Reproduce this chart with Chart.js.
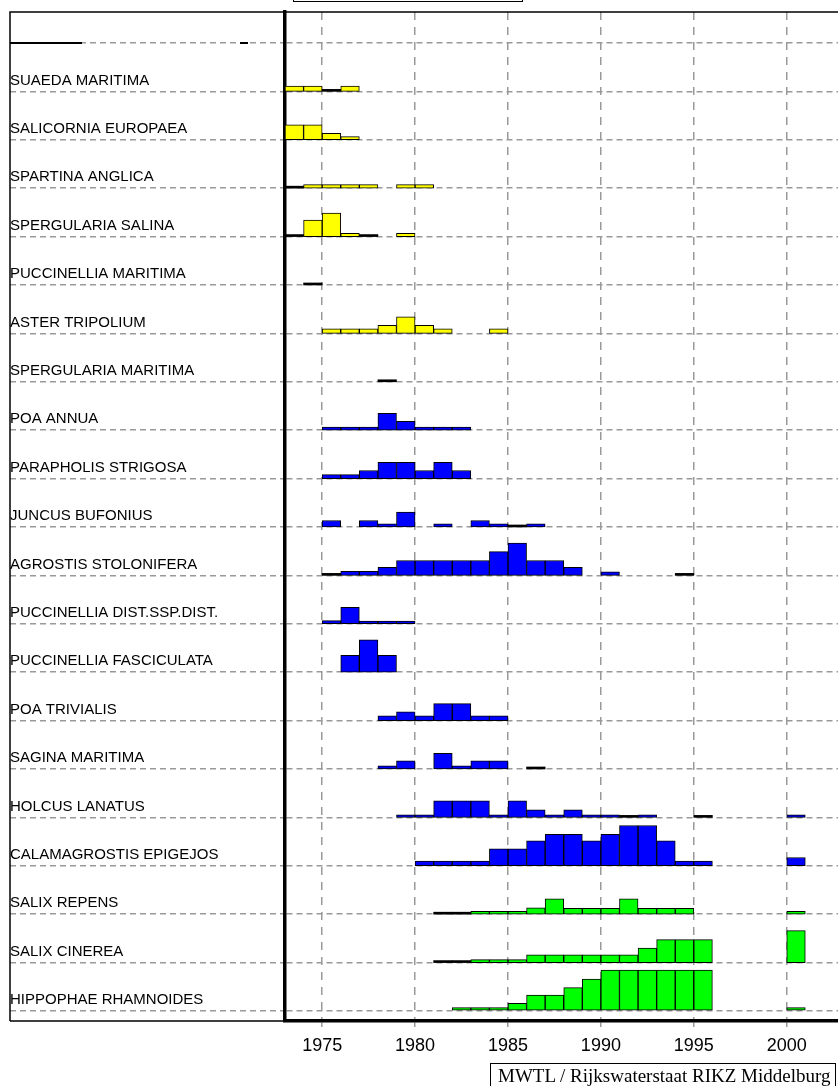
<!DOCTYPE html>
<html>
<head>
<meta charset="utf-8">
<script src="https://cdn.jsdelivr.net/npm/chart.js@4.4.1/dist/chart.umd.min.js"></script>
<style>
  html, body { margin: 0; padding: 0; background: #fff; }
  #wrap { position: relative; width: 838px; height: 1086px; overflow: hidden; }
  #myChart { position: absolute; left: 0; top: 0; }
  #title { position: absolute; left: 293px; top: -30px; width: 228px; height: 30px; border: 1.5px solid #000; }
  #source { position: absolute; left: 490px; top: 1063px; width: 346px; height: 40px; border: 1px solid #000;
            box-sizing: border-box; padding: 1px 0 0 7px; font: 19px "Liberation Serif", serif; color: #000; white-space: nowrap; }
</style>
</head>
<body>
<div id="wrap">
  <canvas id="myChart" width="838" height="1086"></canvas>
  <div id="title"></div>
  <div id="source">MWTL / Rijkswaterstaat RIKZ Middelburg</div>
</div>
<script>
// one entry per year, starting 1973; null = no record, 0 = recorded absent (black line)
const _ = null;
const firstYear = 1973;
const yearTicks = [1975, 1980, 1985, 1990, 1995, 2000];

const species = [
  '',
  'SUAEDA MARITIMA',
  'SALICORNIA EUROPAEA',
  'SPARTINA ANGLICA',
  'SPERGULARIA SALINA',
  'PUCCINELLIA MARITIMA',
  'ASTER TRIPOLIUM',
  'SPERGULARIA MARITIMA',
  'POA ANNUA',
  'PARAPHOLIS STRIGOSA',
  'JUNCUS BUFONIUS',
  'AGROSTIS STOLONIFERA',
  'PUCCINELLIA DIST.SSP.DIST.',
  'PUCCINELLIA FASCICULATA',
  'POA TRIVIALIS',
  'SAGINA MARITIMA',
  'HOLCUS LANATUS',
  'CALAMAGROSTIS EPIGEJOS',
  'SALIX REPENS',
  'SALIX CINEREA',
  'HIPPOPHAE RHAMNOIDES'
];

const yellow = '#ffff00';
const blue = '#0000ff';
const green = '#00ff00';
const colors = ['#000', yellow, yellow, yellow, yellow, yellow, yellow, yellow,
  blue, blue, blue, blue, blue, blue, blue, blue, blue, blue, green, green, green];

const topRow = [];
const suaeda = [0.65, 0.65, 0, 0.65];
const salicornia = [1.85, 1.85, 0.8, 0.4];
const spartina = [0, 0.45, 0.45, 0.45, 0.45, _, 0.45, 0.45];
const spergSalina = [0, 2.05, 2.9, 0.4, 0, _, 0.4];
const puccMaritima = [_, 0];
const aster = [_, _, 0.55, 0.55, 0.55, 1.0, 2.05, 1.0, 0.55, _, _, 0.55];
const spergMaritima = [_, _, _, _, _, 0];
const poaAnnua = [_, _, 0.37, 0.37, 0.37, 2.1, 1.1, 0.37, 0.37, 0.37];
const parapholis = [_, _, 0.5, 0.5, 1.0, 2.0, 2.0, 1.0, 2.0, 1.0];
const juncus = [_, _, 0.8, _, 0.8, 0.4, 1.85, _, 0.4, _, 0.8, 0.4, 0, 0.4];
const agrostis = [_, _, 0, 0.5, 0.5, 1.0, 1.85, 1.85, 1.85, 1.85, 1.85, 2.95, 4.0, 1.85, 1.85, 1.0, _, 0.45, _, _, _, 0];
const puccDist = [_, _, 0.4, 2.05, 0.35, 0.35, 0.35];
const puccFasc = [_, _, _, 2.1, 4.0, 2.1];
const poaTrivialis = [_, _, _, _, _, 0.6, 1.1, 0.6, 2.1, 2.1, 0.6, 0.6];
const sagina = [_, _, _, _, _, 0.4, 1.0, _, 1.95, 0.4, 1.0, 1.0, _, 0];
const holcus = [_, _, _, _, _, _, 0.33, 0.33, 2.05, 2.05, 2.05, 0.33, 2.05, 0.95, 0.33, 0.95, 0.33, 0.33, 0, 0.33, _, _, 0, _, _, _, _, 0.33];
const calamagrostis = [_, _, _, _, _, _, _, 0.58, 0.58, 0.58, 0.58, 2.1, 2.1, 3.1, 3.9, 3.9, 3.1, 3.9, 5.0, 5.0, 3.1, 0.58, 0.58, _, _, _, _, 1.03];
const salixRepens = [_, _, _, _, _, _, _, _, 0, 0, 0.37, 0.37, 0.37, 0.78, 1.9, 0.74, 0.74, 0.74, 1.9, 0.74, 0.74, 0.74, _, _, _, _, _, 0.37];
const salixCinerea = [_, _, _, _, _, _, _, _, 0, 0, 0.37, 0.37, 0.37, 0.95, 0.95, 0.95, 0.95, 0.95, 0.95, 1.8, 2.85, 2.85, 2.85, _, _, _, _, 3.96];
const hippophae = [_, _, _, _, _, _, _, _, _, 0.41, 0.41, 0.41, 0.95, 1.98, 1.98, 2.89, 3.96, 5.07, 5.07, 5.07, 5.07, 5.07, 5.07, _, _, _, _, 0.41];

const rowValues = [topRow, suaeda, salicornia, spartina, spergSalina, puccMaritima, aster, spergMaritima,
  poaAnnua, parapholis, juncus, agrostis, puccDist, puccFasc, poaTrivialis, sagina, holcus,
  calamagrostis, salixRepens, salixCinerea, hippophae];

const rowStep = 6;
const lastRow = species.length - 1;
function rowBase(i) {
  return (lastRow - i) * rowStep;
}

const datasets = rowValues.map(function(values, i) {
  const base = rowBase(i);
  const points = [];
  values.forEach(function(v, j) {
    if (v === null) return;
    points.push({ x: firstYear + j + 0.5, y: [base, v === 0 ? base + 0.25 : base + v], v: v });
  });
  return {
    label: species[i],
    data: points,
    backgroundColor: function(ctx) { return ctx.raw && ctx.raw.v === 0 ? '#000' : colors[i]; },
    borderWidth: function(ctx) { return ctx.raw && ctx.raw.v === 0 ? 0 : 1; },
    borderColor: '#000',
    borderSkipped: false,
    grouped: false,
    categoryPercentage: 1,
    barPercentage: 1
  };
});

const framePlugin = {
  id: 'frame',
  afterDraw: function(chart) {
    const ctx = chart.ctx;
    const area = chart.chartArea;
    const left = chart.scales.y.left;
    const row0 = chart.scales.y.getPixelForValue(rowBase(0));
    ctx.save();
    ctx.strokeStyle = '#000';
    ctx.lineWidth = 1.5;
    ctx.beginPath();
    ctx.moveTo(left, area.bottom);
    ctx.lineTo(left, area.top);
    ctx.lineTo(chart.width, area.top);
    ctx.moveTo(left, area.bottom);
    ctx.lineTo(area.left, area.bottom);
    ctx.stroke();
    ctx.lineWidth = 2;
    ctx.beginPath();
    ctx.moveTo(left, row0);
    ctx.lineTo(left + 72, row0);
    ctx.moveTo(left + 230, row0);
    ctx.lineTo(left + 238, row0);
    ctx.stroke();
    ctx.restore();
  }
};

const ctx = document.getElementById('myChart').getContext('2d');
const chart = new Chart(ctx, { // eslint-disable-line
  type: 'bar',
  data: { datasets: datasets },
  plugins: [framePlugin],
  options: {
    responsive: false,
    animation: false,
    devicePixelRatio: 1,
    layout: { padding: { left: 10, top: 10, right: 0, bottom: 0 } },
    plugins: { legend: { display: false }, tooltip: { enabled: false } },
    scales: {
      x: {
        type: 'linear',
        offset: false,
        min: 1973,
        max: 2002.76,
        afterBuildTicks: function(scale) {
          scale.ticks = yearTicks.map(function(v) { return { value: v }; });
        },
        afterFit: function(scale) { scale.height = 65; },
        grid: { offset: false, color: '#999', lineWidth: 1.5, tickLength: 6, tickColor: '#999', tickWidth: 1.5, tickBorderDash: [] },
        border: { display: true, color: '#000', width: 3.5, dash: [8, 7] },
        ticks: {
          color: '#000',
          font: { family: 'Liberation Sans', size: 18 },
          padding: 8,
          maxRotation: 0,
          autoSkip: false,
          callback: function(value) { return String(value); }
        }
      },
      y: {
        type: 'linear',
        min: -1.24,
        max: 123.84,
        afterBuildTicks: function(scale) {
          scale.ticks = species.map(function(s, i) { return { value: rowBase(lastRow - i) }; });
        },
        afterFit: function(scale) { scale.width = 275; },
        grid: { color: '#999', lineWidth: 1.5, tickLength: 275, tickColor: '#999', tickWidth: 1.5, tickBorderDash: [6, 4] },
        border: { display: true, color: '#000', width: 3.5, dash: [6, 4] },
        ticks: {
          crossAlign: 'far',
          labelOffset: -11,
          autoSkip: false,
          color: '#000',
          font: { family: 'Liberation Sans', size: 15 },
          callback: function(value) {
            return species[lastRow - Math.round(value / rowStep)];
          }
        }
      }
    }
  }
});
</script>
</body>
</html>
